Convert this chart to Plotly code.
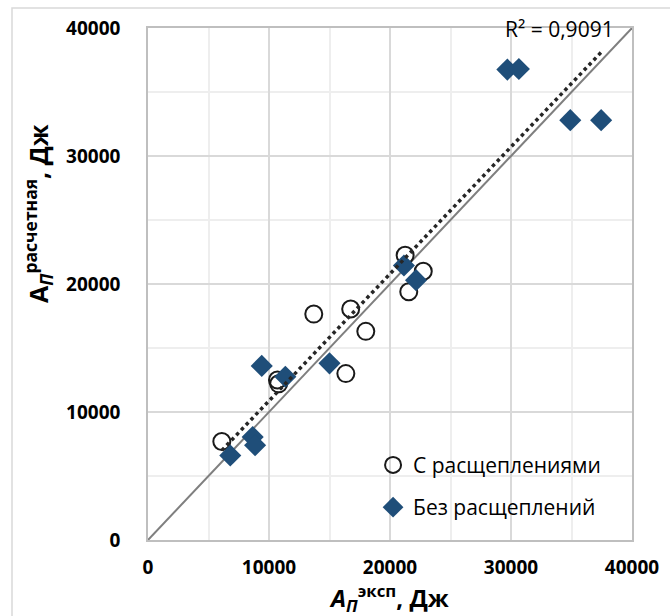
import plotly.graph_objects as go

# Data
split_x = [6100, 10700, 10800, 13700, 16750, 18000, 16350, 21250, 22750, 21550]
split_y = [7700, 12500, 12200, 17650, 18050, 16300, 13000, 22250, 21000, 19400]

nosplit_x = [6800, 8650, 8850, 9400, 11350, 15000, 21150, 22150, 29700, 30650, 34900, 37450]
nosplit_y = [6600, 8050, 7400, 13600, 12750, 13800, 21450, 20300, 36750, 36800, 32800, 32800]

axis_range = [0, 40000]
tick_vals = [0, 10000, 20000, 30000, 40000]
tick_text = ["0", "10000", "20000", "30000", "40000"]
r2_text = "R² = 0,9091"
name_split = "С расщеплениями"
name_nosplit = "Без расщеплений"

# Linear trend (y = slope*x + intercept), drawn over the data x-span
trend_slope = 0.992
trend_intercept = 950

all_x = split_x + nosplit_x
tx = [min(all_x), max(all_x)]
ty = [trend_slope * v + trend_intercept for v in tx]

FONT = "Open Sans"

fig = go.Figure()

# 1:1 line
fig.add_trace(go.Scatter(x=axis_range, y=axis_range, mode="lines",
                         line=dict(color="#7f7f7f", width=2),
                         showlegend=False, hoverinfo="skip"))

fig.add_trace(go.Scatter(x=split_x, y=split_y, mode="markers", name=name_split,
                         legendgroup="a",
                         marker=dict(symbol="circle-open", size=17,
                                     color="#1a1a1a", line=dict(width=2, color="#1a1a1a"))))

fig.add_trace(go.Scatter(x=nosplit_x, y=nosplit_y, mode="markers", name=name_nosplit,
                         legendgroup="b",
                         marker=dict(symbol="diamond", size=17, color="#1f4e79",
                                     line=dict(width=0))))

# trend line (dotted)
fig.add_trace(go.Scatter(x=tx, y=ty, mode="lines",
                         line=dict(color="#262626", width=3.5, dash="dot"),
                         showlegend=False, hoverinfo="skip"))

grid_major = "#d9d9d9"
grid_minor = "#eeeeee"

fig.update_xaxes(range=axis_range, tickvals=tick_vals, ticktext=tick_text, showgrid=True,
                 gridcolor=grid_major, gridwidth=1.5,
                 minor=dict(dtick=5000, showgrid=True, gridcolor=grid_minor, gridwidth=1.5),
                 showline=True, linecolor="#bfbfbf", linewidth=1.5, mirror=True,
                 zeroline=False, ticks="", ticklabelstandoff=9,
                 tickfont=dict(family=FONT, size=19, color="black", weight="bold"))
fig.update_yaxes(range=axis_range, tickvals=tick_vals, ticktext=tick_text, showgrid=True,
                 gridcolor=grid_major, gridwidth=1.5,
                 minor=dict(dtick=5000, showgrid=True, gridcolor=grid_minor, gridwidth=1.5),
                 showline=True, linecolor="#bfbfbf", linewidth=1.5, mirror=True,
                 zeroline=False, ticks="", ticklabelstandoff=22,
                 tickfont=dict(family=FONT, size=19, color="black", weight="bold"))

fig.update_layout(
    width=670, height=616,
    margin=dict(l=148, r=38, t=28, b=76),
    paper_bgcolor="white", plot_bgcolor="white",
    font=dict(family=FONT, color="black"),
    legend=dict(x=0.465, y=0.186, xanchor="left", yanchor="top",
                bgcolor="rgba(0,0,0,0)", tracegroupgap=12,
                font=dict(family=FONT, size=21, color="black")),
    shapes=[dict(type="rect", xref="paper", yref="paper",
                 x0=-136 / 484, x1=1.2, y0=-0.3, y1=1 + 20 / 512,
                 line=dict(color="#d9d9d9", width=1.5), fillcolor="rgba(0,0,0,0)",
                 layer="below")],
    annotations=[
        dict(text=r2_text, xref="paper", yref="paper", x=(616 - 148) / 484, y=(540 - 29) / 512,
             xanchor="right", yanchor="middle", showarrow=False,
             font=dict(family=FONT, size=21, color="black")),
        dict(text="<b><i>A<sub>П</sub></i><sup>эксп</sup>, Дж</b>", xref="paper", yref="paper",
             x=(389 - 148) / 484, y=(540 - 598) / 512, xanchor="center", yanchor="middle",
             showarrow=False, font=dict(family=FONT, size=24, color="black")),
        dict(text="<b>A<sub><i>П</i></sub><sup>расчетная</sup>, Дж</b>", xref="paper", yref="paper",
             x=(38 - 148) / 484, y=(540 - 214) / 512, xanchor="center", yanchor="middle",
             textangle=-90, showarrow=False, font=dict(family=FONT, size=25, color="black")),
    ],
)

fig.write_html("out.html")
